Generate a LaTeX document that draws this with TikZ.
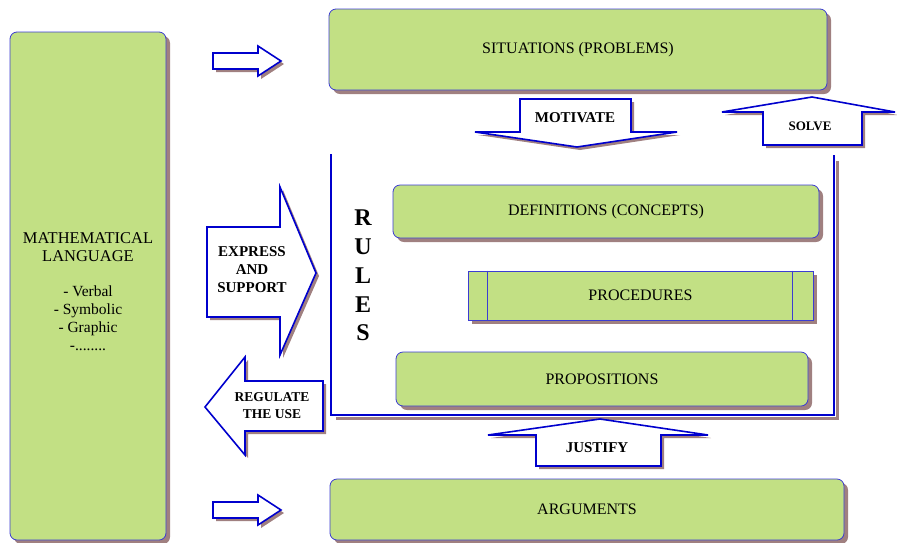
\documentclass[tikz,border=0pt]{standalone}
\usepackage{fontspec}
\setmainfont{Liberation Serif}
\usetikzlibrary{shadows,positioning}
\definecolor{boxgreen}{RGB}{194,224,132}
\definecolor{boxblue}{RGB}{60,60,210}
\definecolor{arrblue}{RGB}{0,0,205}
\definecolor{shade}{RGB}{160,128,128}
\newcommand\listfont{\fontsize{15.5}{18}\selectfont}
\begin{document}
\begin{tikzpicture}[x=1pt,y=-1pt,inner sep=0pt,
  box/.style={draw=boxblue,fill=boxgreen,line width=0.8pt,rounded corners=7pt,
    drop shadow={shadow xshift=4pt,shadow yshift=-4pt,fill=shade,opacity=1},
    font=\fontsize{16}{18}\selectfont},
  flat/.style={box,sharp corners},
  blk/.style={draw=arrblue,fill=white,line width=1.6pt,
    drop shadow={shadow xshift=3pt,shadow yshift=-3pt,fill=shade,opacity=1}},
  frame/.style={draw=arrblue,line width=1.4pt},
  frameshade/.style={draw=shade,line width=3pt,transform canvas={shift={(3pt,-3pt)}}},
  tag/.style={align=center,font=\fontsize{15}{18}\selectfont\bfseries}]
\useasboundingbox (0,0) rectangle (897,542);
\node[box,minimum width=156pt,minimum height=508pt] (lang) at (88,286) {};
\node[align=center,font=\fontsize{16.5}{18}\selectfont] (langtext) at ([yshift=-6pt]lang.center)
  {MATHEMATICAL\\LANGUAGE\\[17pt]{\listfont - Verbal}\\{\listfont - Symbolic}\\{\listfont - Graphic}\\{\listfont -........}};
\node[box,minimum width=498pt,minimum height=81pt] (sit) at (578,49.5) {SITUATIONS (PROBLEMS)};
\node[box,minimum width=426pt,minimum height=53pt] (defs) at (606,211.5) {DEFINITIONS (CONCEPTS)};
\node[flat,minimum width=345pt,minimum height=49pt] (proc) at (640.5,295.5) {PROCEDURES};
\draw[boxblue,line width=0.8pt] ([xshift=20pt]proc.north west) -- ([xshift=20pt]proc.south west)
  ([xshift=-21pt]proc.north east) -- ([xshift=-21pt]proc.south east);
\node[box,minimum width=412pt,minimum height=54pt] (props) at (602,379) {PROPOSITIONS};
\node[box,minimum width=514pt,minimum height=61pt] (args) at (587,509.5) {ARGUMENTS};
\draw[frameshade] (333,415) -- (834,415) -- (834,158);
\draw[frame] (331,154) -- (331,415) -- (834,415) -- (834,155);
\node[align=center,font=\fontsize{24}{28.8}\selectfont\bfseries] (rules) at (363,275.5) {R\\U\\L\\E\\S};
\draw[blk] (213,53) -- (258,53) -- (258,46) -- (281,61) -- (258,76) -- (258,69) -- (213,69) -- cycle;
\draw[blk] (213,502) -- (258,502) -- (258,495) -- (281,510) -- (258,525) -- (258,518) -- (213,518) -- cycle;
\draw[blk] (520,99) -- (631,99) -- (631,132) -- (677,132) -- (577,147) -- (475,132) -- (520,132) -- cycle;
\node[tag] (motivate) at (575,118) {MOTIVATE};
\draw[blk] (763,145) -- (763,112) -- (722,112) -- (812,97) -- (895,112) -- (862,112) -- (862,145) -- cycle;
\node[tag,font=\fontsize{13}{16}\selectfont\bfseries] (solve) at (810,126) {SOLVE};
\draw[blk] (207,227) -- (280,227) -- (280,187) -- (316,273) -- (280,355) -- (280,317) -- (207,317) -- cycle;
\node[tag] (express) at (252,270) {EXPRESS\\AND\\SUPPORT};
\draw[blk] (205,407) -- (245,357) -- (245,381) -- (323,381) -- (323,431) -- (245,431) -- (245,455) -- cycle;
\node[tag,font=\fontsize{13.5}{17}\selectfont\bfseries] (regulate) at (272,406) {REGULATE\\THE USE};
\draw[blk] (536,466) -- (536,435) -- (488,435) -- (600,419) -- (708,435) -- (661,435) -- (661,466) -- cycle;
\node[tag] (justify) at (597,448) {JUSTIFY};
\end{tikzpicture}
\end{document}
